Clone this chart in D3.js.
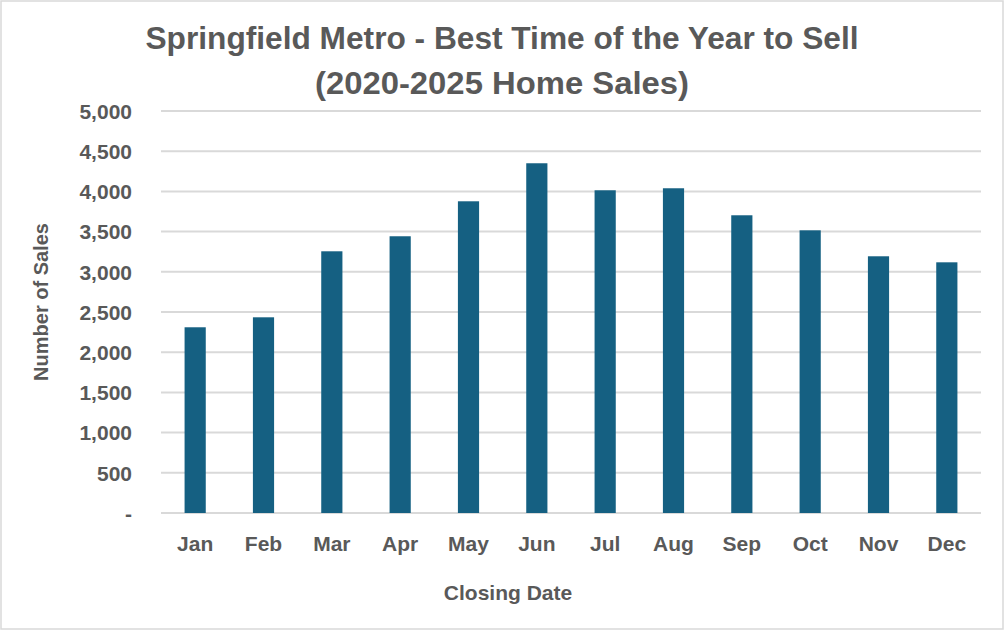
<!DOCTYPE html>
<html>
<head>
<meta charset="utf-8">
<script src="https://cdn.jsdelivr.net/npm/d3@7"></script>
<style>
  body { margin: 0; background: #fff; }
  #chart svg { display: block; }
</style>
</head>
<body>
<div id="chart"></div>
<script>
const months = ["Jan", "Feb", "Mar", "Apr", "May", "Jun", "Jul", "Aug", "Sep", "Oct", "Nov", "Dec"];
const sales = [2310, 2434, 3255, 3442, 3877, 4350, 4014, 4039, 3703, 3516, 3193, 3118];
const yTicks = [0, 500, 1000, 1500, 2000, 2500, 3000, 3500, 4000, 4500, 5000];
const titleLines = ["Springfield Metro - Best Time of the Year to Sell", "(2020-2025 Home Sales)"];
const titleWidths = [713, 374];

const width = 1005;
const height = 631;
const margin = {top: 111, right: 24, bottom: 118, left: 161};
const textColor = "#595959";
const font = "'Liberation Sans', Arial, sans-serif";

const svg = d3.select("#chart")
  .append("svg")
  .attr("width", width)
  .attr("height", height);

// outer border
svg.append("rect")
  .attr("x", 1).attr("y", 1)
  .attr("width", width - 3).attr("height", height - 3)
  .attr("fill", "#fff")
  .attr("stroke", "#d9d9d9")
  .attr("stroke-width", 1.5);

const y = d3.scaleLinear()
  .domain([0, 5000])
  .range([height - margin.bottom, margin.top]);

const x = d3.scaleBand()
  .domain(months)
  .range([margin.left, width - margin.right])
  .paddingInner(0.69)
  .paddingOuter(0.345);

// gridlines
svg.append("g")
  .selectAll("line")
  .data(yTicks)
  .join("line")
    .attr("x1", margin.left)
    .attr("x2", width - margin.right)
    .attr("y1", d => y(d))
    .attr("y2", d => y(d))
    .attr("stroke", "#d9d9d9")
    .attr("stroke-width", 2);

// y axis labels
const yAxis = svg.append("g")
  .attr("transform", "translate(" + (margin.left - 29) + ",0)")
  .call(d3.axisLeft(y)
    .tickValues(yTicks)
    .tickSize(0)
    .tickFormat(d => d === 0 ? "-" : d3.format(",")(d)));
yAxis.select(".domain").remove();
yAxis.selectAll("text")
  .attr("fill", textColor)
  .attr("font-family", font)
  .attr("font-weight", "bold")
  .attr("font-size", 21)
  .attr("dy", "0.35em")
  .attr("x", 0);

// bars
svg.append("g")
  .selectAll("rect")
  .data(sales)
  .join("rect")
    .attr("fill", "#156082")
    .attr("x", (d, i) => x(months[i]))
    .attr("y", d => y(d))
    .attr("width", x.bandwidth())
    .attr("height", d => y(0) - y(d));

// x axis labels
const xAxis = svg.append("g")
  .attr("transform", "translate(0," + (height - margin.bottom) + ")")
  .call(d3.axisBottom(x).tickSize(0).tickPadding(23));
xAxis.select(".domain").remove();
xAxis.selectAll("text")
  .attr("fill", textColor)
  .attr("font-family", font)
  .attr("font-weight", "bold")
  .attr("font-size", 21);

// title
svg.append("g")
  .selectAll("text")
  .data(titleLines)
  .join("text")
    .attr("x", 502)
    .attr("y", (d, i) => 49 + i * 45)
    .attr("text-anchor", "middle")
    .attr("fill", textColor)
    .attr("font-family", font)
    .attr("font-weight", "bold")
    .attr("font-size", 31)
    .attr("textLength", (d, i) => titleWidths[i])
    .attr("lengthAdjust", "spacingAndGlyphs")
    .text(d => d);

// axis titles
svg.append("text")
  .attr("x", 508)
  .attr("y", 600)
  .attr("text-anchor", "middle")
  .attr("fill", textColor)
  .attr("font-family", font)
  .attr("font-weight", "bold")
  .attr("font-size", 21)
  .text("Closing Date");

svg.append("text")
  .attr("transform", "translate(48,302) rotate(-90)")
  .attr("text-anchor", "middle")
  .attr("fill", textColor)
  .attr("font-family", font)
  .attr("font-weight", "bold")
  .attr("font-size", 20)
  .text("Number of Sales");
</script>
</body>
</html>
